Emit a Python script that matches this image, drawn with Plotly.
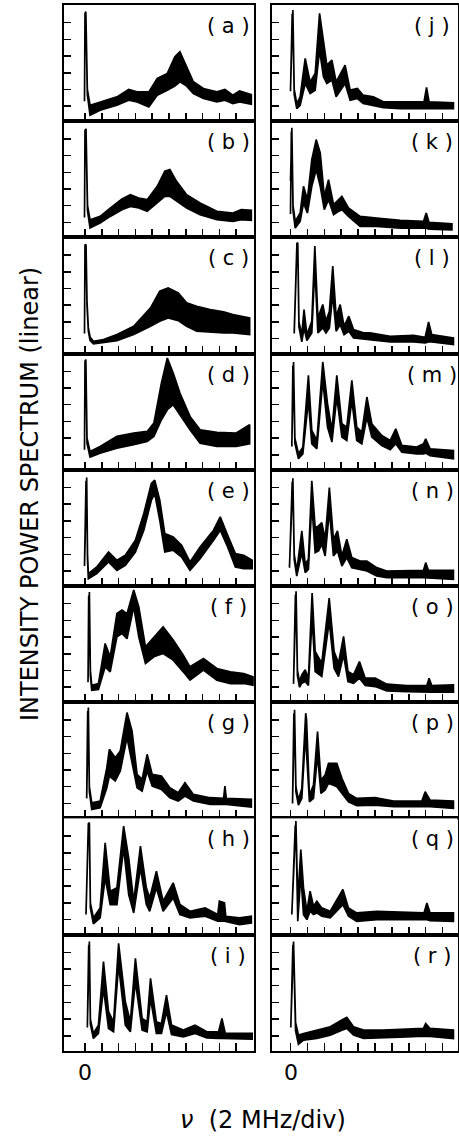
import plotly.graph_objects as go

# ---- data (x in divisions of 2 MHz, y in vertical divisions) ----
a_x  = [-0.03, 0.0, 0.05, 0.14, 0.3, 0.9, 1.9, 2.6, 3.1, 3.8, 4.3, 4.9, 5.35, 5.65, 6.05, 6.45, 7.05, 7.85, 8.33, 8.8, 9.2, 9.9]
a_hi = [0.3, 5.55, 5.66, 1.0, 0.06, 0.26, 0.56, 1.0, 0.86, 0.86, 1.66, 1.96, 2.96, 3.26, 2.36, 1.46, 1.06, 0.86, 1.0, 0.66, 0.92, 0.7]
a_lo = [0.3, 5.35, 5.45, 0.7, -0.54, -0.24, 0.06, 0.36, 0.26, -0.04, 0.66, 0.96, 1.2, 1.46, 1.2, 0.76, 0.46, 0.26, 0.36, 0.16, 0.26, 0.12]

b_x  = [-0.03, 0.0, 0.06, 0.15, 0.3, 0.9, 1.5, 2.2, 2.7, 3.2, 3.7, 4.3, 4.75, 5.05, 5.45, 6.05, 6.85, 7.85, 8.8, 9.3, 9.9]
b_hi = [0.3, 5.5, 5.6, 1.0, 0.16, 0.36, 0.86, 1.4, 1.66, 1.46, 1.36, 2.16, 3.06, 3.16, 2.46, 1.66, 1.16, 0.66, 0.56, 0.76, 0.72]
b_lo = [0.3, 5.3, 5.4, 0.7, -0.34, -0.04, 0.36, 0.76, 0.96, 0.86, 0.66, 1.16, 1.56, 1.56, 1.26, 0.86, 0.46, 0.16, 0.06, 0.16, 0.12]

c_x  = [-0.03, 0.0, 0.06, 0.12, 0.2, 0.3, 0.5, 1.1, 1.9, 2.9, 3.9, 4.45, 4.95, 5.55, 6.05, 6.65, 7.45, 8.25, 8.8, 9.8]
c_hi = [0.3, 5.6, 5.64, 2.2, 0.64, 0.1, -0.16, -0.06, 0.24, 0.74, 1.84, 2.84, 3.04, 2.74, 2.14, 1.94, 1.74, 1.6, 1.44, 1.24]
c_lo = [0.3, 5.4, 5.45, 2.0, 0.45, -0.1, -0.32, -0.26, -0.12, 0.24, 0.74, 1.04, 1.24, 1.08, 0.74, 0.44, 0.4, 0.34, 0.34, 0.24]

d_x  = [-0.03, 0.0, 0.05, 0.12, 0.3, 0.9, 1.9, 2.9, 3.7, 4.1, 4.55, 4.9, 5.25, 5.65, 6.25, 6.85, 7.85, 9.0, 9.8]
d_hi = [0.3, 5.6, 5.7, 1.0, 0.2, 0.5, 1.1, 1.3, 1.4, 1.9, 4.3, 5.8, 4.9, 3.7, 2.3, 1.5, 1.34, 1.3, 1.8]
d_lo = [0.3, 5.4, 5.5, 0.7, -0.14, 0.1, 0.4, 0.6, 0.8, 1.1, 2.1, 2.7, 3.0, 2.4, 1.5, 0.7, 0.5, 0.5, 0.66]

e_x  = [-0.03, 0.06, 0.1, 0.15, 0.2, 0.7, 1.4, 1.9, 2.4, 3.0, 3.5, 3.95, 4.15, 4.45, 4.75, 5.25, 5.75, 6.25, 6.85, 7.65, 8.05, 8.45, 8.95, 9.45, 9.95]
e_hi = [0.3, 5.55, 5.6, 1.0, -0.16, 0.24, 1.14, 0.64, 0.94, 1.84, 3.44, 5.24, 5.44, 4.24, 2.24, 2.04, 1.54, 0.54, 1.44, 2.44, 3.24, 2.24, 1.04, 0.94, 0.64]
e_lo = [0.3, 5.35, 5.4, 0.7, -0.46, -0.16, 0.54, 0.04, 0.34, 1.14, 2.44, 4.24, 4.64, 3.04, 1.14, 1.24, 0.84, 0.04, 0.74, 1.84, 2.44, 1.54, 0.24, 0.14, 0.14]

f_x  = [0.18, 0.22, 0.26, 0.32, 0.4, 0.8, 1.2, 1.5, 1.9, 2.2, 2.5, 2.9, 3.2, 3.6, 4.1, 4.65, 5.25, 5.85, 6.25, 7.05, 7.85, 8.65, 9.45, 10.0]
f_hi = [0.3, 5.65, 5.7, 1.0, 0.12, 0.22, 2.62, 1.82, 4.42, 4.62, 4.4, 5.82, 4.82, 2.42, 3.02, 3.62, 2.82, 1.92, 1.22, 1.72, 1.12, 0.92, 0.82, 0.62]
f_lo = [0.3, 5.45, 5.5, 0.7, -0.18, -0.14, 1.22, 0.92, 3.02, 3.22, 2.9, 4.82, 3.02, 1.42, 1.82, 2.02, 1.62, 0.92, 0.42, 1.02, 0.42, 0.22, 0.22, 0.12]

g_x  = [0.1, 0.16, 0.2, 0.26, 0.4, 0.9, 1.3, 1.45, 1.8, 2.1, 2.5, 2.8, 3.1, 3.4, 3.7, 4.0, 4.55, 5.05, 5.55, 5.95, 6.45, 7.45, 8.25, 8.33, 8.41, 9.9]
g_hi = [0.3, 5.7, 5.74, 1.0, 0.04, 0.14, 2.14, 3.24, 2.74, 3.14, 5.44, 4.34, 1.74, 1.44, 2.94, 1.74, 1.64, 0.94, 0.64, 1.24, 0.54, 0.34, 0.3, 1.04, 0.3, 0.24]
g_lo = [0.3, 5.5, 5.55, 0.7, -0.36, -0.26, 0.94, 1.64, 1.34, 1.94, 3.94, 2.54, 0.94, 0.74, 1.94, 1.04, 0.84, 0.34, 0.14, 0.44, 0.14, -0.06, -0.06, -0.06, -0.06, -0.22]

h_x  = [0.06, 0.2, 0.26, 0.32, 0.5, 0.9, 1.2, 1.5, 1.9, 2.3, 2.6, 2.9, 3.3, 3.65, 3.85, 4.25, 4.65, 5.25, 5.65, 6.25, 7.15, 7.9, 8.0, 8.3, 8.38, 9.2, 9.9]
h_hi = [0.4, 5.75, 5.8, 1.0, 0.1, 0.7, 4.6, 1.7, 1.9, 5.6, 3.7, 1.1, 4.4, 1.9, 1.3, 2.9, 1.1, 2.2, 0.9, 0.5, 0.7, 0.3, 1.1, 1.0, 0.2, 0.1, 0.2]
h_lo = [0.3, 5.55, 5.6, 0.7, -0.26, 0.1, 2.5, 0.9, 0.9, 4.3, 1.5, 0.4, 3.1, 0.9, 0.5, 1.9, 0.5, 1.3, 0.3, 0.1, 0.2, -0.1, -0.1, -0.1, -0.1, -0.3, -0.2]

i_x  = [0.14, 0.22, 0.26, 0.32, 0.5, 0.8, 1.1, 1.4, 1.7, 2.0, 2.4, 2.7, 3.0, 3.4, 3.7, 3.9, 4.25, 4.55, 4.85, 5.15, 5.85, 6.55, 7.25, 7.95, 8.15, 8.35, 9.05, 9.95]
i_hi = [0.64, 5.6, 5.64, 1.0, 0.14, 0.64, 4.44, 1.44, 0.84, 5.54, 2.04, 0.84, 4.64, 1.04, 0.84, 3.44, 0.84, 0.74, 2.44, 0.64, 0.34, 0.64, 0.24, 0.24, 1.04, 0.14, 0.14, 0.14]
i_lo = [0.5, 5.4, 5.45, 0.7, -0.16, 0.14, 2.84, 0.44, 0.24, 4.24, 0.64, 0.24, 3.24, 0.34, 0.24, 2.24, 0.14, 0.14, 1.44, 0.08, -0.06, 0.14, -0.12, -0.16, -0.16, -0.16, -0.16, -0.2]

j_x  = [0.0, 0.1, 0.14, 0.22, 0.37, 0.57, 0.87, 1.16, 1.46, 1.72, 1.95, 2.15, 2.45, 2.7, 3.23, 3.53, 3.96, 4.3, 4.9, 5.5, 6.5, 7.9, 8.05, 8.2, 9.64]
j_hi = [1.0, 5.7, 5.76, 1.0, 0.16, 0.56, 2.86, 1.46, 1.96, 5.56, 3.76, 2.46, 2.76, 1.46, 2.46, 0.96, 1.06, 0.66, 0.56, 0.26, 0.26, 0.26, 1.12, 0.26, 0.2]
j_lo = [0.9, 5.5, 5.55, 0.7, -0.14, 0.06, 1.36, 0.76, 0.96, 3.36, 1.76, 1.36, 1.56, 0.56, 1.36, 0.36, 0.46, 0.16, 0.06, -0.08, -0.14, -0.14, -0.14, -0.14, -0.14]

k_x  = [0.0, 0.05, 0.08, 0.15, 0.28, 0.57, 0.77, 1.0, 1.26, 1.52, 1.76, 2.0, 2.25, 2.55, 2.84, 3.04, 3.43, 4.12, 5.1, 6.5, 7.87, 8.03, 8.2, 9.55]
k_hi = [2.5, 5.6, 5.66, 1.0, 0.06, 0.56, 2.16, 1.36, 3.76, 4.96, 4.16, 1.56, 2.56, 1.06, 1.36, 1.56, 0.86, 0.36, 0.26, 0.12, 0.06, 0.56, 0.0, -0.08]
k_lo = [0.5, 5.4, 5.45, 0.7, -0.34, 0.06, 1.16, 0.56, 2.16, 3.16, 2.16, 0.76, 1.36, 0.46, 0.66, 0.76, 0.36, -0.24, -0.24, -0.34, -0.34, -0.34, -0.4, -0.44]

l_x  = [0.22, 0.38, 0.43, 0.5, 0.67, 0.8, 0.97, 1.26, 1.44, 1.62, 1.91, 2.1, 2.3, 2.5, 2.7, 2.94, 3.17, 3.45, 3.73, 4.32, 4.7, 5.9, 7.28, 7.97, 8.17, 8.36, 9.64]
l_hi = [0.44, 5.7, 5.74, 1.0, 0.24, 1.74, 0.24, 1.04, 5.54, 1.24, 2.04, 1.04, 1.64, 4.34, 1.34, 2.04, 0.74, 1.34, 0.54, 0.34, 0.34, 0.14, 0.2, 0.08, 1.0, 0.24, 0.04]
l_lo = [0.3, 5.5, 5.55, 0.7, -0.2, 0.64, -0.12, 0.34, 4.24, 0.34, 0.64, 0.34, 0.64, 2.64, 0.44, 0.84, 0.24, 0.44, 0.04, -0.06, -0.06, -0.2, -0.2, -0.26, -0.2, -0.2, -0.36]

m_x  = [0.08, 0.14, 0.18, 0.26, 0.47, 0.73, 1.06, 1.26, 1.56, 1.91, 2.19, 2.45, 2.74, 3.04, 3.33, 3.63, 3.92, 4.22, 4.52, 4.81, 5.4, 5.9, 6.23, 6.59, 7.47, 7.87, 8.0, 8.26, 9.64]
m_hi = [0.66, 5.5, 5.56, 1.0, 0.06, 0.46, 4.76, 1.46, 0.86, 5.56, 3.06, 1.46, 4.76, 1.86, 1.66, 4.46, 1.66, 1.36, 3.46, 1.86, 1.16, 0.86, 1.56, 0.56, 0.46, 0.66, 0.96, 0.36, 0.26]
m_lo = [0.5, 5.3, 5.35, 0.7, -0.24, 0.06, 3.26, 0.66, 0.36, 4.46, 1.66, 0.76, 3.46, 1.06, 0.86, 3.26, 0.86, 0.66, 2.26, 1.06, 0.56, 0.3, 0.66, 0.16, 0.06, 0.06, 0.1, -0.06, -0.24]

n_x  = [-0.06, 0.1, 0.14, 0.22, 0.37, 0.67, 0.87, 1.06, 1.26, 1.46, 1.66, 1.85, 2.05, 2.3, 2.54, 2.78, 3.04, 3.33, 3.63, 4.12, 4.52, 5.1, 5.7, 7.87, 8.0, 8.16, 9.64]
n_hi = [0.3, 5.5, 5.55, 1.0, 0.0, 2.4, 0.4, 0.7, 5.4, 2.6, 2.7, 2.9, 1.9, 5.0, 1.9, 2.4, 0.9, 1.9, 0.8, 0.6, 0.6, 0.2, 0.0, 0.04, 0.5, 0.04, 0.04]
n_lo = [0.2, 5.3, 5.35, 0.7, -0.3, 1.1, -0.1, 0.1, 4.0, 1.1, 1.2, 1.6, 0.9, 3.6, 0.9, 1.2, 0.3, 0.8, 0.2, 0.1, 0.0, -0.3, -0.4, -0.4, -0.4, -0.4, -0.5]

o_x  = [0.18, 0.29, 0.33, 0.41, 0.53, 0.67, 0.87, 1.06, 1.28, 1.46, 1.85, 2.29, 2.58, 2.84, 3.14, 3.4, 3.73, 4.08, 4.42, 5.01, 5.7, 6.88, 8.07, 8.2, 8.36, 9.64]
o_hi = [0.34, 5.7, 5.74, 1.0, 0.34, 0.74, 1.04, 0.54, 5.64, 2.14, 1.44, 5.34, 2.14, 1.44, 3.04, 0.94, 0.74, 1.54, 0.54, 0.54, 0.18, 0.1, 0.1, 0.54, 0.1, 0.14]
o_lo = [0.2, 5.5, 5.55, 0.7, 0.0, 0.24, 0.34, 0.1, 4.14, 0.94, 0.64, 3.94, 1.14, 0.64, 1.94, 0.34, 0.24, 0.54, 0.1, 0.04, -0.22, -0.26, -0.3, -0.3, -0.3, -0.3]

p_x  = [0.12, 0.2, 0.24, 0.32, 0.47, 0.67, 0.85, 0.9, 0.95, 1.12, 1.36, 1.6, 1.8, 2.05, 2.25, 2.5, 2.74, 3.04, 3.43, 3.92, 5.0, 6.1, 7.77, 7.97, 8.26, 9.64]
p_hi = [0.1, 5.55, 5.6, 1.0, 0.2, 0.9, 5.2, 5.4, 5.0, 0.5, 1.1, 4.3, 1.4, 1.7, 2.4, 2.4, 2.4, 1.5, 0.6, 0.3, 0.34, 0.14, 0.14, 0.7, 0.2, 0.14]
p_lo = [0.0, 5.35, 5.4, 0.7, -0.1, 0.3, 3.5, 3.9, 3.5, 0.1, 0.3, 2.9, 0.6, 0.8, 1.2, 1.1, 1.0, 0.6, 0.1, -0.14, -0.1, -0.2, -0.2, -0.2, -0.2, -0.3]

q_x  = [0.08, 0.28, 0.32, 0.43, 0.61, 0.77, 0.97, 1.16, 1.36, 1.56, 1.85, 2.35, 2.84, 3.1, 3.43, 3.92, 5.1, 6.49, 7.9, 8.07, 8.26, 9.64]
q_hi = [0.4, 5.85, 5.9, 1.1, 4.2, 1.9, 0.5, 1.7, 0.8, 1.1, 0.7, 0.5, 1.3, 1.8, 0.7, 0.4, 0.5, 0.46, 0.4, 1.0, 0.4, 0.4]
q_lo = [0.3, 5.6, 5.65, -0.1, 2.7, 0.3, 0.0, 0.5, 0.3, 0.4, 0.2, 0.1, 0.6, 0.9, 0.2, -0.1, 0.0, 0.0, 0.0, 0.0, -0.06, -0.1]

r_x  = [0.02, 0.14, 0.18, 0.3, 0.47, 0.77, 1.56, 2.35, 3.04, 3.33, 3.73, 4.32, 5.5, 6.88, 7.87, 8.0, 8.26, 9.64]
r_hi = [0.64, 5.6, 5.64, 0.8, 0.04, 0.14, 0.34, 0.54, 0.94, 1.1, 0.54, 0.34, 0.34, 0.4, 0.44, 0.74, 0.44, 0.34]
r_lo = [0.5, 5.4, 5.45, 0.3, -0.5, -0.26, -0.16, 0.04, 0.34, 0.44, 0.04, -0.16, -0.1, -0.06, -0.02, -0.02, -0.04, -0.16]

panel_labels = list("abcdefghijklmnopqr")
x_tick_vals = list(range(10))
y_tick_vals = list(range(6))
x_label = "<i>ν</i>  (2 MHz/div)"
y_label = "INTENSITY POWER SPECTRUM (linear)"
zero_label = "0"

series = [
    (a_x, a_lo, a_hi), (b_x, b_lo, b_hi), (c_x, c_lo, c_hi),
    (d_x, d_lo, d_hi), (e_x, e_lo, e_hi), (f_x, f_lo, f_hi),
    (g_x, g_lo, g_hi), (h_x, h_lo, h_hi), (i_x, i_lo, i_hi),
    (j_x, j_lo, j_hi), (k_x, k_lo, k_hi), (l_x, l_lo, l_hi),
    (m_x, m_lo, m_hi), (n_x, n_lo, n_hi), (o_x, o_lo, o_hi),
    (p_x, p_lo, p_hi), (q_x, q_lo, q_hi), (r_x, r_lo, r_hi),
]

# ---- layout geometry (pixels) ----
W, H = 459, 1139
row_top0, row_h = 5.0, 116.2
cols = [
    dict(x0=64.0, x1=254.0, zero=85.0, div=16.8),
    dict(x0=272.0, x1=457.5, zero=290.5, div=16.9),
]
ydiv, ybase_off = 16.7, 15.0
FONT = "DejaVu Sans"

fig = go.Figure()
layout = dict(
    width=W, height=H, margin=dict(l=0, r=0, t=0, b=0),
    paper_bgcolor="white", plot_bgcolor="white", showlegend=False,
)
annotations = []

for idx, (xs, lo, hi) in enumerate(series):
    n = idx + 1
    col = cols[idx // 9]
    row = idx % 9
    top = row_top0 + row * row_h
    bot = top + row_h
    suffix = "" if n == 1 else str(n)
    xr = [-(col["zero"] - col["x0"]) / col["div"], (col["x1"] - col["zero"]) / col["div"]]
    yr = [-ybase_off / ydiv, (row_h - ybase_off) / ydiv]
    common = dict(showline=True, mirror=True, linecolor="black", linewidth=2,
                  ticks="inside", tickcolor="black", tickwidth=1.5,
                  showticklabels=False, showgrid=False, zeroline=False, fixedrange=True)
    layout["xaxis" + suffix] = dict(domain=[col["x0"] / W, col["x1"] / W], range=xr,
                                    tickvals=x_tick_vals, ticklen=8,
                                    anchor="y" + suffix, **common)
    layout["yaxis" + suffix] = dict(domain=[1 - bot / H, 1 - top / H], range=yr,
                                    tickvals=y_tick_vals, ticklen=7,
                                    anchor="x" + suffix, **common)
    fig.add_trace(go.Scatter(
        x=list(xs) + list(xs)[::-1], y=list(hi) + list(lo)[::-1],
        mode="lines", fill="toself", fillcolor="black",
        line=dict(color="black", width=1.7),
        xaxis="x" + suffix, yaxis="y" + suffix, hoverinfo="skip",
    ))
    annotations.append(dict(
        text="( " + panel_labels[idx] + " )", xref="x" + suffix + " domain",
        yref="y" + suffix + " domain", x=0.865, y=0.82, showarrow=False,
        xanchor="center", yanchor="middle",
        font=dict(family=FONT, size=21, color="black"),
    ))

for ax in ("x9", "x18"):
    annotations.append(dict(
        text=zero_label, xref=ax, x=0, yref="paper", y=1 - 1072 / H,
        showarrow=False, xanchor="center", yanchor="middle",
        font=dict(family=FONT, size=22, color="black"),
    ))

annotations.append(dict(
    text=x_label, xref="paper", yref="paper", x=263 / W, y=1 - 1120 / H,
    showarrow=False, xanchor="center", yanchor="middle",
    font=dict(family=FONT, size=24, color="black"),
))
annotations.append(dict(
    text=y_label, xref="paper", yref="paper", x=30 / W, y=1 - 494 / H,
    showarrow=False, xanchor="center", yanchor="middle", textangle=-90,
    font=dict(family=FONT, size=24, color="black"),
))

layout["annotations"] = annotations
fig.update_layout(**layout)
fig.write_html("out.html", config={"displayModeBar": False, "staticPlot": True},
               post_script="document.body.style.margin='0px';")
